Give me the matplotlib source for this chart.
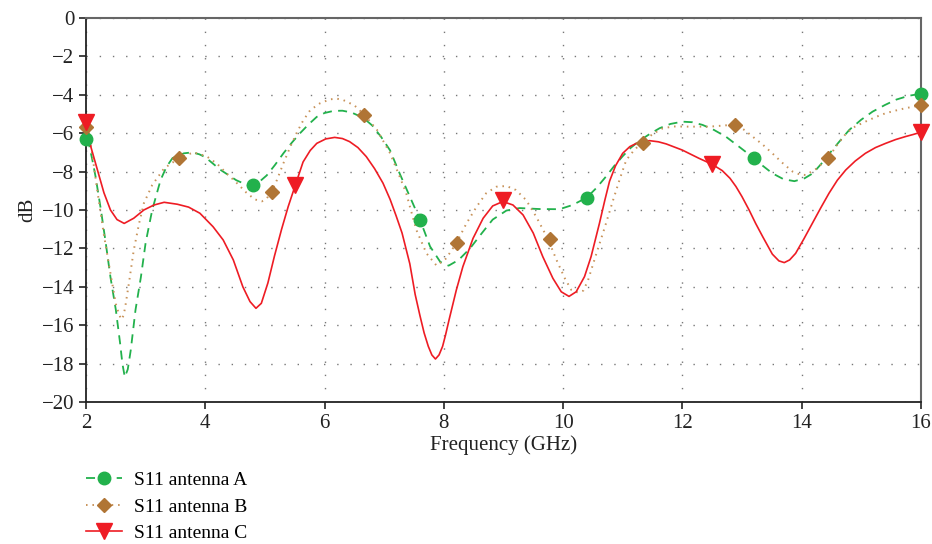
# S11 comparison of three antennas
import matplotlib
matplotlib.use('Agg')
from matplotlib import pyplot as plt
from matplotlib.lines import Line2D

plt.rcParams['font.family'] = ['Liberation Serif', 'DejaVu Serif']

# antenna A
freq_a = [2.0, 2.05, 2.1, 2.16, 2.25, 2.33, 2.41, 2.5, 2.57, 2.61, 2.65, 2.7,
          2.75, 2.83, 2.92, 3.0, 3.11, 3.25, 3.35, 3.45, 3.64, 3.78, 3.9, 4.0,
          4.25, 4.52, 4.7, 4.8, 4.9, 5.03, 5.17, 5.31, 5.45, 5.59, 5.73, 5.87,
          6.0, 6.15, 6.3, 6.45, 6.65, 6.8, 6.95, 7.1, 7.26, 7.43, 7.6, 7.77,
          7.94, 8.08, 8.25, 8.44, 8.64, 8.82, 9.05, 9.27, 9.6, 9.94, 10.16, 10.4,
          10.56, 10.72, 10.86, 11.0, 11.14, 11.28, 11.45, 11.62, 11.8, 12.0, 12.17,
          12.34, 12.53, 12.73, 12.95, 13.2, 13.35, 13.51, 13.7, 13.88, 14.05, 14.19,
          14.33, 14.47, 14.63, 14.8, 15.0, 15.19, 15.4, 15.59, 15.8, 16.0]
s11_a = [-6.3, -6.6, -7.3, -8.26, -10.0, -11.7, -13.5, -15.2, -16.9, -18.0, -18.7, -18.3,
         -17.3, -15.2, -13.5, -11.7, -10.0, -8.44, -7.75, -7.3, -7.05, -7.0, -7.1, -7.25,
         -7.9, -8.45, -8.7, -8.72, -8.55, -8.2, -7.65, -7.05, -6.5, -6.0, -5.55, -5.15,
         -4.95, -4.84, -4.83, -4.92, -5.2, -5.6, -6.2, -6.9, -8.1, -9.3, -10.5, -11.9,
         -12.7, -12.9, -12.6, -12.0, -11.2, -10.5, -10.03, -9.9, -9.95, -9.96, -9.74, -9.35,
         -8.85, -8.26, -7.7, -7.2, -6.75, -6.4, -6.05, -5.74, -5.52, -5.4, -5.43,
         -5.57, -5.83, -6.18, -6.7, -7.3, -7.7, -8.09, -8.4, -8.5, -8.35, -8.09,
         -7.6, -7.05, -6.45, -5.83, -5.3, -4.88, -4.53, -4.25, -4.05, -3.95]
mark_a_x = [2.0, 4.8, 7.6, 10.4, 13.2, 16.0]
mark_a_y = [-6.3, -8.7, -10.5, -9.35, -7.3, -3.95]

# antenna B
freq_b = [2.0, 2.05, 2.1, 2.19, 2.3, 2.41, 2.5, 2.55, 2.59, 2.63, 2.66, 2.72,
          2.8, 2.89, 2.97, 3.11, 3.31, 3.56, 3.8, 4.02, 4.2, 4.36, 4.53, 4.69,
          4.83, 4.95, 5.03, 5.11, 5.2, 5.31, 5.42, 5.53, 5.64, 5.76, 5.92, 6.09,
          6.2, 6.31, 6.5, 6.67, 6.88, 7.1, 7.26, 7.37, 7.54, 7.71, 7.88, 8.04,
          8.21, 8.38, 8.55, 8.71, 8.88, 9.05, 9.21, 9.38, 9.55, 9.75, 9.89, 10.03,
          10.14, 10.25, 10.34, 10.42, 10.56, 10.7, 10.84, 10.95, 11.06, 11.2, 11.33,
          11.5, 11.67, 11.85, 12.07, 12.46, 12.7, 12.89, 13.05, 13.18, 13.35, 13.51,
          13.68, 13.85, 13.97, 14.07, 14.25, 14.44, 14.6, 14.75, 14.9, 15.07, 15.25,
          15.41, 15.58, 15.74, 16.0]
s11_b = [-5.66, -6.2, -7.0, -9.0, -11.3, -13.3, -14.9, -15.4, -15.7, -15.5, -15.0, -13.8,
         -12.1, -10.7, -9.65, -8.7, -7.83, -7.3, -7.0, -7.2, -7.6, -8.1, -8.6, -9.1,
         -9.45, -9.55, -9.4, -9.05, -8.45, -7.57, -6.75, -6.0, -5.35, -4.8, -4.45, -4.24,
         -4.2, -4.27, -4.55, -5.05, -5.83, -7.05, -8.26, -9.13, -11.04, -12.26, -12.9, -12.52,
         -11.73, -10.7, -9.83, -9.13, -8.79, -8.75, -8.96, -9.48, -10.35, -11.53, -12.6, -13.56,
         -14.17, -14.3, -14.2, -13.65, -12.26, -10.9, -9.48, -8.4, -7.4, -6.85, -6.5,
         -6.05, -5.75, -5.65, -5.66, -5.66, -5.6, -5.55, -5.85, -6.18, -6.6, -7.05,
         -7.55, -8.0, -8.15, -8.18, -7.85, -7.31, -6.6, -6.0, -5.65, -5.4, -5.15,
         -4.96, -4.82, -4.7, -4.55]
mark_b_x = [2.0, 3.556, 5.111, 6.667, 8.222, 9.778, 11.333, 12.889, 14.444, 16.0]
mark_b_y = [-5.66, -7.3, -9.05, -5.05, -11.7, -11.5, -6.5, -5.55, -7.31, -4.55]

# antenna C
freq_c = [2.0, 2.02, 2.08, 2.19, 2.3, 2.41, 2.52, 2.64, 2.8, 2.97, 3.14, 3.31,
          3.53, 3.72, 3.91, 4.13, 4.3, 4.47, 4.63, 4.75, 4.85, 4.94, 5.05, 5.16,
          5.28, 5.39, 5.5, 5.64, 5.76, 5.87, 6.02, 6.17, 6.3, 6.42, 6.56, 6.7,
          6.84, 6.98, 7.1, 7.2, 7.3, 7.43, 7.52, 7.6, 7.67, 7.74, 7.8, 7.86,
          7.92, 7.98, 8.03, 8.09, 8.21, 8.32, 8.49, 8.66, 8.82, 8.99, 9.16, 9.33,
          9.5, 9.66, 9.83, 9.97, 10.1, 10.22, 10.36, 10.47, 10.61, 10.7, 10.78,
          10.88, 11.0, 11.12, 11.23, 11.35, 11.45, 11.6, 11.73, 12.0, 12.28, 12.5,
          12.67, 12.8, 12.9, 13.0, 13.12, 13.23, 13.35, 13.51, 13.62, 13.71, 13.8,
          13.9, 14.04, 14.18, 14.32, 14.46, 14.6, 14.74, 14.9, 15.07, 15.24, 15.41,
          15.58, 15.74, 15.87, 16.0]
s11_c = [-5.4, -5.5, -6.7, -7.9, -9.1, -10.0, -10.5, -10.7, -10.43, -10.0, -9.74, -9.6,
         -9.7, -9.85, -10.17, -10.87, -11.56, -12.6, -14.0, -14.77, -15.12, -14.86, -13.8, -12.4,
         -11.0, -9.83, -8.8, -7.5, -6.9, -6.53, -6.3, -6.22, -6.28, -6.44, -6.75, -7.22,
         -7.85, -8.6, -9.45, -10.3, -11.2, -12.8, -14.4, -15.5, -16.4, -17.1, -17.55, -17.76,
         -17.55, -17.1, -16.5, -15.7, -14.17, -12.95, -11.48, -10.43, -9.79, -9.56, -9.74, -10.26,
         -11.2, -12.43, -13.56, -14.26, -14.5, -14.26, -13.47, -12.43, -10.7, -9.5, -8.5,
         -7.7, -7.05, -6.7, -6.53, -6.43, -6.39, -6.45, -6.56, -6.88, -7.31, -7.62,
         -7.95, -8.35, -8.78, -9.3, -10.0, -10.7, -11.4, -12.3, -12.65, -12.74, -12.6,
         -12.26, -11.5, -10.7, -9.9, -9.13, -8.45, -7.92, -7.45, -7.05, -6.75, -6.53,
         -6.33, -6.18, -6.07, -5.95]
mark_c_x = [2.0, 5.5, 9.0, 12.5, 16.0]
mark_c_y = [-5.4, -8.7, -9.5, -7.6, -5.95]

green = '#22b14c'
brown_line = '#c8935a'
brown_mark = '#b07535'
red = '#ee1c24'

fig = plt.figure(figsize=(9.32, 5.44), dpi=100)
ax = fig.add_axes([0.0923, 0.261, 0.8957, 0.706])

ax.plot(freq_a, s11_a, color=green, lw=1.3, dashes=(5, 3.5))
ax.plot(mark_a_x, mark_a_y, 'o', color=green, ms=9, clip_on=False, zorder=5)
ax.plot(freq_b, s11_b, color=brown_line, lw=1.4, dashes=(0.8, 2.5))
ax.plot(mark_b_x, mark_b_y, 'D', color=brown_mark, ms=7.5, clip_on=False, zorder=5)
ax.plot(freq_c, s11_c, color=red, lw=1.2)
ax.plot(mark_c_x, mark_c_y, 'v', color=red, ms=11, clip_on=False, zorder=5)

ax.set_xlim(2, 16)
ax.set_ylim(-20, 0)
ax.set_xticks(range(2, 17, 2))
ax.set_yticks(range(-20, 1, 2))
ax.set_yticklabels(['\u221220', '\u221218', '\u221216', '\u221214', '\u221212', '\u221210',
                    '\u22128', '\u22126', '\u22124', '\u22122', '0'])
ax.grid(True, color='#777777', lw=1.0, linestyle=(0, (1, 8.5)))
ax.tick_params(direction='out', length=5, width=1.2, labelsize=15, colors='#222222')
for side in ['left', 'bottom']:
    ax.spines[side].set_color('#222222')
    ax.spines[side].set_linewidth(1.3)
for side in ['top', 'right']:
    ax.spines[side].set_color('#666666')
    ax.spines[side].set_linewidth(1.5)

ax.set_xlabel('Frequency (GHz)', fontsize=15, color='#222222', labelpad=2)
ax.set_ylabel('dB', fontsize=15, color='#222222', labelpad=3)

handles = [
    Line2D([], [], color=green, lw=1.3, dashes=(5, 3.5), marker='o', ms=9),
    Line2D([], [], color=brown_line, lw=1.4, dashes=(0.8, 2.5), marker='D',
           ms=7.5, markerfacecolor=brown_mark, markeredgecolor=brown_mark),
    Line2D([], [], color=red, lw=1.2, marker='v', ms=11),
]
fig.legend(handles, ['S11 antenna A', 'S11 antenna B', 'S11 antenna C'],
           loc='upper left', bbox_to_anchor=(0.092, 0.133), frameon=False,
           fontsize=14, handlelength=1.85, handletextpad=0.65,
           labelspacing=0.45, borderpad=0.0, borderaxespad=0.0)

fig.savefig('out.png', dpi=100)
